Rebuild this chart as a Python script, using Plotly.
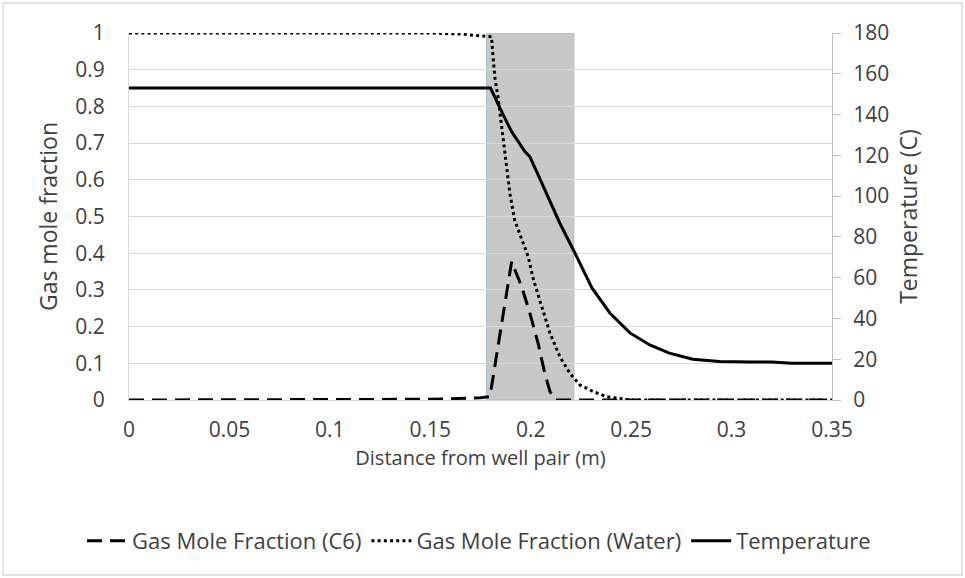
import plotly.graph_objects as go

# Gas mole fraction of C6 along the distance from the well pair
c6_x = [0.0, 0.15, 0.175, 0.1797, 0.1905, 0.1955, 0.1996, 0.2037, 0.207, 0.2096, 0.2125, 0.35]
c6_y = [0.0, 0.002, 0.006, 0.009, 0.377, 0.309, 0.236, 0.154, 0.073, 0.023, 0.0, 0.0]

# Gas mole fraction of water
water_x = [0.0, 0.15, 0.165, 0.175, 0.1805, 0.1813, 0.1822, 0.1838, 0.1855, 0.1871, 0.188,
           0.1896, 0.192, 0.1955, 0.1988, 0.2012, 0.203, 0.2062, 0.2096, 0.2145, 0.2195,
           0.2245, 0.2311, 0.2378, 0.245, 0.25, 0.35]
water_y = [1.0, 1.0, 0.997, 0.992, 0.99, 0.931, 0.877, 0.822, 0.749, 0.677, 0.636,
           0.564, 0.49, 0.436, 0.39, 0.331, 0.30, 0.245, 0.182, 0.118, 0.073,
           0.041, 0.023, 0.009, 0.003, 0.0, 0.0]

# Temperature profile (C)
temp_x = [0.0, 0.18, 0.1863, 0.1905, 0.1971, 0.1996, 0.2046, 0.2145, 0.222, 0.2305, 0.2394,
          0.2494, 0.2593, 0.269, 0.2807, 0.294, 0.31, 0.32, 0.33, 0.35]
temp_y = [153, 153, 139.8, 131.6, 121.8, 119.3, 108.4, 86.7, 72.1, 55, 42.7,
          32.9, 27, 23, 20, 18.9, 18.6, 18.6, 18, 18]

# Shaded zone between these distances (m)
zone_start = 0.178
zone_end = 0.2215

left_ticks = [0, 0.1, 0.2, 0.3, 0.4, 0.5, 0.6, 0.7, 0.8, 0.9, 1]
left_labels = ["0", "0.1", "0.2", "0.3", "0.4", "0.5", "0.6", "0.7", "0.8", "0.9", "1"]
right_ticks = [0, 20, 40, 60, 80, 100, 120, 140, 160, 180]
x_ticks = [0, 0.05, 0.1, 0.15, 0.2, 0.25, 0.3, 0.35]
x_labels = ["0", "0.05", "0.1", "0.15", "0.2", "0.25", "0.3", "0.35"]

FONT = "Open Sans"
TXT = "#404040"
TICK_FS = 21
TITLE_FS = 20
YTITLE_FS = 23
LEG_FS = 22

fig = go.Figure()
fig.add_trace(go.Scatter(
    x=c6_x, y=c6_y, mode="lines", name="Gas Mole Fraction (C6)",
    line=dict(color="black", width=3, dash="15px,8px"), yaxis="y"))
fig.add_trace(go.Scatter(
    x=water_x, y=water_y, mode="lines", name="Gas Mole Fraction (Water)",
    line=dict(color="black", width=3, dash="3px,3.2px"), yaxis="y"))
fig.add_trace(go.Scatter(
    x=temp_x, y=temp_y, mode="lines", name="Temperature",
    line=dict(color="black", width=3), yaxis="y2"))

L, R, T, B = 129, 133, 33, 178
W, H = 965, 578
pw, ph = W - L - R, H - T - B

fig.add_shape(type="rect", xref="x", yref="y", x0=zone_start, x1=zone_end, y0=0, y1=1,
              fillcolor="#c8c8c8", line=dict(color="#a9bccf", width=1), layer="below")
# outer chart frame
fig.add_shape(type="rect", xref="paper", yref="paper",
              x0=(3 - L) / pw, x1=(962 - L) / pw,
              y0=(H - B - 575) / ph, y1=(H - B - 3) / ph,
              line=dict(color="#d9d9d9", width=1.3), fillcolor="rgba(0,0,0,0)")

fig.update_layout(
    width=W, height=H,
    margin=dict(l=L, r=R, t=T, b=B, autoexpand=False),
    paper_bgcolor="white", plot_bgcolor="white",
    font=dict(family=FONT, size=TICK_FS, color=TXT),
    showlegend=True,
    legend=dict(orientation="h", x=(82 - L) / pw, xanchor="left",
                y=(400 - 541) / ph, yanchor="middle",
                font=dict(family=FONT, size=LEG_FS, color=TXT), itemwidth=40, tracegroupgap=0),
    xaxis=dict(range=[0, 0.35], tickvals=x_ticks, ticktext=x_labels, showgrid=False,
               zeroline=False, showline=True, linecolor="#d9d9d9", linewidth=1,
               ticks="", ticklabelstandoff=11,
               title=dict(text="Distance from well pair (m)", standoff=8,
                          font=dict(family=FONT, size=TITLE_FS, color=TXT))),
    yaxis=dict(range=[0, 1], tickvals=left_ticks, ticktext=left_labels, showgrid=True,
               gridcolor="#d9d9d9", gridwidth=1, zeroline=False, showline=True,
               linecolor="#d9d9d9", ticks="", ticklabelstandoff=19,
               title=dict(text="Gas mole fraction", standoff=11,
                          font=dict(family=FONT, size=YTITLE_FS, color=TXT))),
    yaxis2=dict(range=[0, 180], tickvals=right_ticks, overlaying="y", side="right",
                showgrid=False, zeroline=False, showline=True, linecolor="#bfbfbf",
                ticks="outside", ticklen=8, tickcolor="#bfbfbf", ticklabelstandoff=8,
                title=dict(text="Temperature (C)", standoff=12,
                           font=dict(family=FONT, size=YTITLE_FS, color=TXT))),
)

fig.write_html("out.html")
